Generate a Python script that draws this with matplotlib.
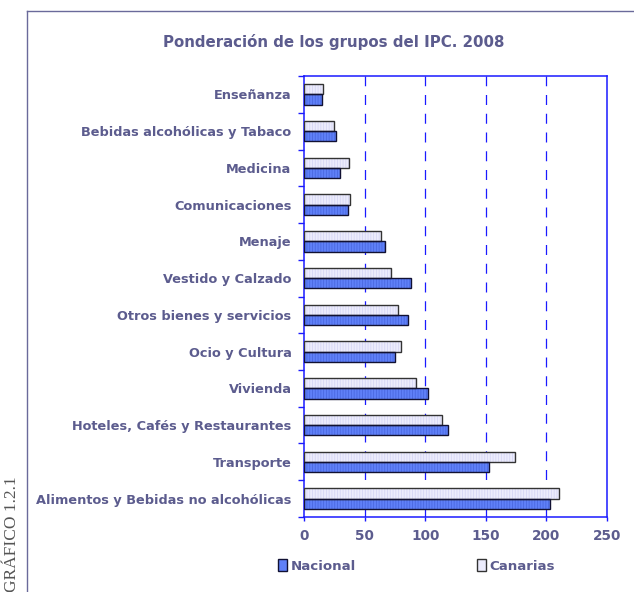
import matplotlib.pyplot as plt
from matplotlib.lines import Line2D
from matplotlib.patches import Patch
import numpy as np

plt.rcParams['font.family'] = ['DejaVu Sans']

# categories listed top to bottom, as in the chart
categories = ['Enseñanza', 'Bebidas alcohólicas y Tabaco', 'Medicina',
              'Comunicaciones', 'Menaje', 'Vestido y Calzado',
              'Otros bienes y servicios', 'Ocio y Cultura', 'Vivienda',
              'Hoteles, Cafés y Restaurantes', 'Transporte',
              'Alimentos y Bebidas no alcohólicas']
nacional = [14.5, 26.4, 30.0, 36.3, 66.8, 88.0, 85.6, 74.8, 102.0, 118.5, 153.0, 202.8]
canarias = [15.3, 24.4, 37.4, 38.2, 63.8, 72.0, 77.4, 80.2, 92.3, 113.9, 174.5, 210.5]
xticks = [0, 50, 100, 150, 200, 250]

title = 'Ponderación de los grupos del IPC. 2008'
txt = '#5c5c8e'
blue = '#1a1aff'
nac_fill, nac_hatch = '#5f80f8', '#4a68e0'
can_fill, can_hatch = '#ececfc', '#d6d6f4'

fig = plt.figure(figsize=(6.34, 5.92), dpi=100)
ax = fig.add_axes([0.4795, 0.1267, 0.4779, 0.7449])

y = np.arange(len(categories))
h = 0.28
plt.rcParams['hatch.linewidth'] = 0.6
# fill + stripes, then outline
ax.barh(y - h / 2, canarias, height=h, color=can_fill, edgecolor=can_hatch,
        hatch='||||||', linewidth=0, zorder=3)
ax.barh(y - h / 2, canarias, height=h, fill=False, edgecolor='#333333',
        linewidth=1.0, zorder=4)
ax.barh(y + h / 2, nacional, height=h, color=nac_fill, edgecolor=nac_hatch,
        hatch='||||||', linewidth=0, zorder=3)
ax.barh(y + h / 2, nacional, height=h, fill=False, edgecolor='#111133',
        linewidth=1.0, zorder=4)

ax.set_xlim(0, 250)
ax.set_ylim(len(categories) - 0.5, -0.5)
ax.set_xticks(xticks)
ax.set_xticklabels([str(v) for v in xticks], fontweight='bold', color=txt, fontsize=9.8)
ax.set_yticks(y)
ax.set_yticklabels(categories, fontweight='bold', color=txt, fontsize=9.3)
ax.set_yticks(np.arange(len(categories) + 1) - 0.5, minor=True)
ax.tick_params(axis='y', which='major', length=0, pad=9)
ax.tick_params(axis='y', which='minor', length=4, color=blue, width=1)
ax.tick_params(axis='x', length=3, color=blue, width=1, pad=6)

for s in ax.spines.values():
    s.set_color(blue)
    s.set_linewidth(1.1)

for v in xticks[1:-1]:
    ax.axvline(v, color=blue, linestyle=(0, (8, 7)), linewidth=0.9, zorder=1)

fig.text(0.526, 0.929, title, ha='center', va='center', color=txt,
         fontweight='bold', fontsize=10.8)

handles = [Patch(facecolor=nac_fill, edgecolor='#111133', linewidth=1),
           Patch(facecolor=can_fill, edgecolor='#333333', linewidth=1)]
leg_kw = dict(loc='center left', frameon=False, handlelength=0.68,
              handleheight=0.95, handletextpad=0.3,
              prop={'weight': 'bold', 'size': 9.6}, labelcolor=txt)
fig.legend(handles[:1], ['Nacional'], bbox_to_anchor=(0.419, 0.044), **leg_kw)
fig.legend(handles[1:], ['Canarias'], bbox_to_anchor=(0.733, 0.044), **leg_kw)

# outer frame (top and left edges)
frame_c = '#6a6a9a'
fig.add_artist(Line2D([27 / 634, 1], [1 - 11 / 592, 1 - 11 / 592],
                      transform=fig.transFigure, color=frame_c, linewidth=1))
fig.add_artist(Line2D([27 / 634, 27 / 634], [0, 1 - 11 / 592],
                      transform=fig.transFigure, color=frame_c, linewidth=1))

fig.text(12 / 634, 0.0, 'GRÁFICO 1.2.1', rotation=90, ha='center', va='bottom',
         family=['Liberation Serif', 'DejaVu Serif'], fontsize=12.5, color='#555555')

fig.savefig('out.png', dpi=100)
